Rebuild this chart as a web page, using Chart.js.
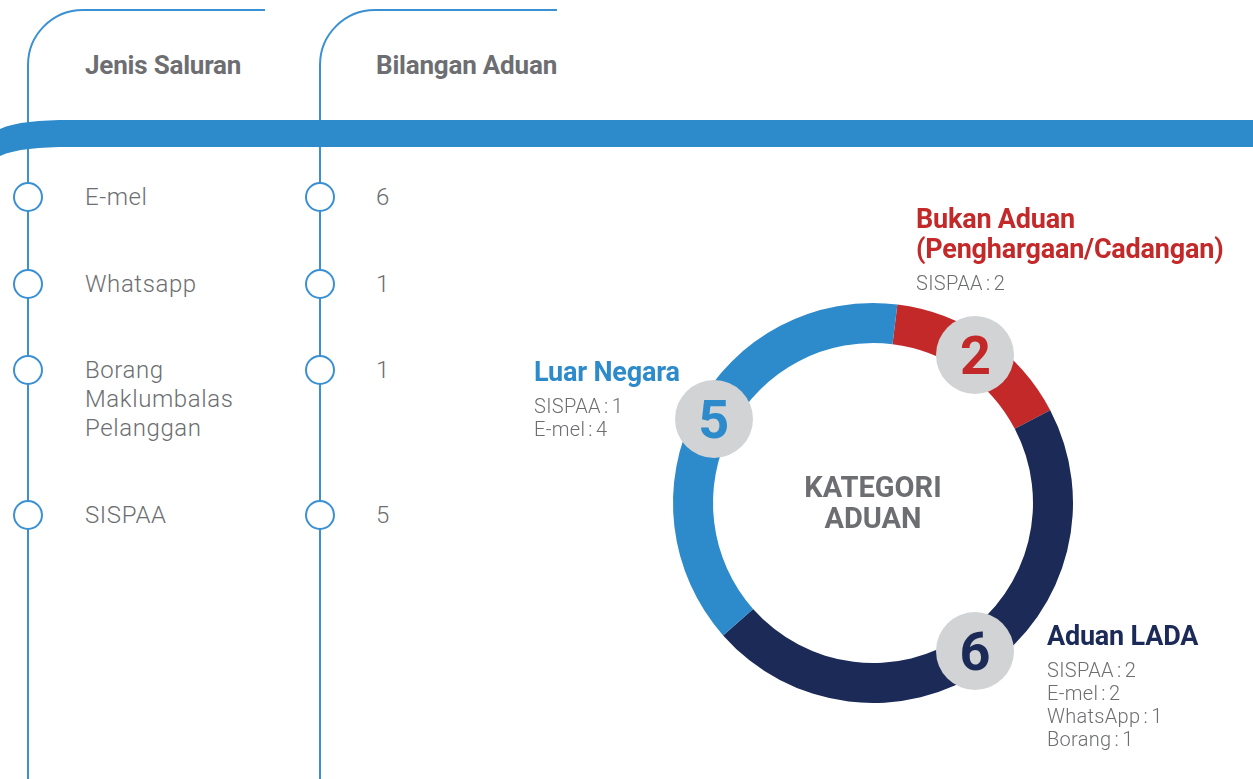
<!DOCTYPE html>
<html>
<head>
<meta charset="utf-8">
<script src="https://cdn.jsdelivr.net/npm/chart.js@4"></script>
<style>
    body { margin: 0; width: 1253px; height: 779px; background: #fff; overflow: hidden; position: relative; font-family: Roboto, sans-serif; color: #6d6e71; }
    .abs { position: absolute; white-space: nowrap; }
    .head { font-size: 26px; font-weight: 700; line-height: 30px; letter-spacing: -0.2px; }
    .row { font-size: 24px; font-weight: 300; line-height: 29px; letter-spacing: 0.6px; }
    .title { font-size: 27px; font-weight: 700; line-height: 30px; letter-spacing: -0.2px; }
    .sub { font-size: 20px; font-weight: 300; line-height: 23px; margin-top: 8px; letter-spacing: 0.3px; word-spacing: -2px; }
    .badge { position: absolute; width: 78px; height: 78px; border-radius: 50%; background: #d1d3d4; font-size: 54px; font-weight: 700; line-height: 80px; text-align: center; }
    #centre { position: absolute; left: 773px; top: 472px; width: 200px; text-align: center; font-size: 29px; font-weight: 700; line-height: 31px; }
    #wrap { position: absolute; left: 623px; top: 253px; width: 500px; height: 500px; }
</style>
</head>
<body>
<svg class="abs" style="left:0;top:0" width="1253" height="779">
    <g fill="none" stroke="#3a90d2" stroke-width="2">
        <path d="M28,779 V65 A55,55 0 0 1 83,10 H265"></path>
        <path d="M320,779 V65 A55,55 0 0 1 375,10 H557"></path>
    </g>
    <path d="M0,129 C15,122 40,120 70,120 H1253 V147 H70 C40,147 15,149 0,156 Z" fill="#2e8bcb"></path>
    <g id="nodes" fill="#fff" stroke="#3a90d2" stroke-width="2"></g>
</svg>

<div class="abs head" style="left:85px;top:50px">Jenis Saluran</div>
<div class="abs head" style="left:376px;top:50px">Bilangan Aduan</div>
<div id="table"></div>

<div id="wrap"><canvas id="Kategori-Chart" width="500" height="500"></canvas></div>
<div id="centre">KATEGORI<br>ADUAN</div>
<div id="labels"></div>
<div id="badges"></div>

<script>
// channel table
const channels = ['E-mel', 'Whatsapp', 'Borang Maklumbalas Pelanggan', 'SISPAA'];
const channelCounts = [6, 1, 1, 5];

// doughnut categories
const categories = ['Bukan Aduan (Penghargaan/Cadangan)', 'Aduan LADA', 'Luar Negara'];
const categoryCounts = [2, 6, 5];
const categoryBreakdown = [
    ['SISPAA : 2'],
    ['SISPAA : 2', 'E-mel : 2', 'WhatsApp : 1', 'Borang : 1'],
    ['SISPAA : 1', 'E-mel : 4']
];

// layout only
const rowTops = [183, 270, 356, 501];
const rowLines = [['E-mel'], ['Whatsapp'], ['Borang', 'Maklumbalas', 'Pelanggan'], ['SISPAA']];
const colours = ['#c4292a', '#1b2a57', '#2e8bcb'];
const titleLines = [['Bukan Aduan', '(Penghargaan/Cadangan)'], ['Aduan LADA'], ['Luar Negara']];
const labelPos = [[916, 204], [1047, 621], [534, 357]];

let table = document.getElementById('table');
let nodes = document.getElementById('nodes');
channels.forEach((c, i) => {
    let name = document.createElement('div');
    name.className = 'abs row';
    name.style.left = '85px';
    name.style.top = rowTops[i] + 'px';
    name.innerHTML = rowLines[i].join('<br>');
    table.appendChild(name);

    let val = document.createElement('div');
    val.className = 'abs row';
    val.style.left = '376px';
    val.style.top = rowTops[i] + 'px';
    val.innerText = channelCounts[i];
    table.appendChild(val);

    [28, 320].forEach(x => {
        let dot = document.createElementNS('http://www.w3.org/2000/svg', 'circle');
        dot.setAttribute('cx', x);
        dot.setAttribute('cy', rowTops[i] + 14);
        dot.setAttribute('r', 14);
        nodes.appendChild(dot);
    });
});

let labels = document.getElementById('labels');
categories.forEach((c, i) => {
    let box = document.createElement('div');
    box.className = 'abs';
    box.style.left = labelPos[i][0] + 'px';
    box.style.top = labelPos[i][1] + 'px';
    box.innerHTML = '<div class="title" style="color:' + colours[i] + '">' + titleLines[i].join('<br>') + '</div>' +
        '<div class="sub">' + categoryBreakdown[i].join('<br>') + '</div>';
    labels.appendChild(box);
});

// grey number badges placed at each arc's centre point
const badgePlugin = {
    id: 'badges',
    afterDraw(chart) {
        let holder = document.getElementById('badges');
        holder.innerHTML = '';
        chart.getDatasetMeta(0).data.forEach((arc, i) => {
            let p = arc.getCenterPoint();
            let b = document.createElement('div');
            b.className = 'badge';
            b.style.left = (623 + p.x - 39) + 'px';
            b.style.top = (253 + p.y - 39) + 'px';
            b.style.color = colours[i];
            b.innerText = categoryCounts[i];
            holder.appendChild(b);
        });
    }
};

window.onload = function () {
    var ctx = document.getElementById('Kategori-Chart').getContext('2d');

    var kategori = new Chart(ctx, {
        type: 'doughnut',
        data: {
            labels: categories,
            datasets: [{
                data: categoryCounts,
                backgroundColor: colours,
                borderWidth: 0
            }]
        },
        options: {
            responsive: false,
            animation: false,
            events: [],
            cutout: '80%',
            rotation: 7,
            layout: { padding: 50 },
            plugins: {
                legend: { display: false },
                tooltip: { enabled: false }
            }
        },
        plugins: [badgePlugin]
    });
};
</script>
</body>
</html>
